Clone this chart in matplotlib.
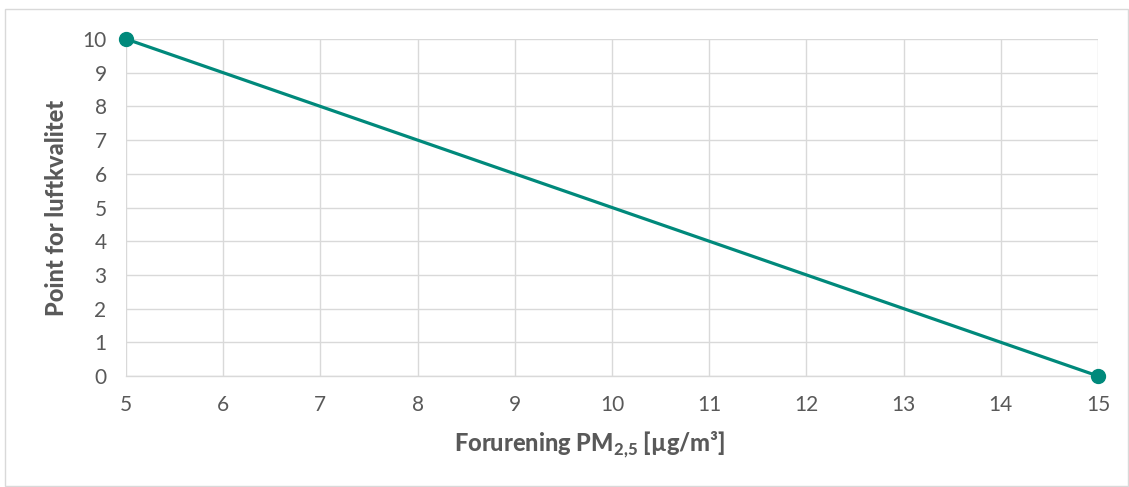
import matplotlib
matplotlib.use("Agg")
import matplotlib.pyplot as plt
from matplotlib.patches import Rectangle

x_vals = [5, 15]
y_vals = [10, 0]
x_ticks = list(range(5, 16))
y_ticks = list(range(0, 11))

plt.rcParams['font.family'] = ['Lato', 'DejaVu Sans']
plt.rcParams['mathtext.fontset'] = 'custom'
plt.rcParams['mathtext.rm'] = 'Lato'
plt.rcParams['mathtext.bf'] = 'Lato:black'

text_color = '#595959'
grid_color = '#D9D9D9'
line_color = '#00897B'

fig = plt.figure(figsize=(11.29, 4.87), dpi=100)
fig.patches.append(Rectangle((5/1129, 1/487), 1 - 6/1129, 1 - 10/487, transform=fig.transFigure,
                             fill=False, edgecolor=grid_color, linewidth=1))
ax = fig.add_axes([126/1129, 1 - 376/487, (1098 - 126)/1129, (376 - 39)/487])

ax.plot(x_vals, y_vals, color=line_color, linewidth=2.3, marker='o', markersize=10,
        clip_on=False, zorder=3)

ax.set_xlim(5, 15)
ax.set_ylim(0, 10)
ax.set_xticks(x_ticks)
ax.set_yticks(y_ticks)
ax.grid(True, color=grid_color, linewidth=1)
ax.set_axisbelow(True)
for s in ['top', 'right', 'left']:
    ax.spines[s].set_visible(False)
ax.spines['bottom'].set_color(grid_color)
ax.spines['bottom'].set_linewidth(1)
ax.tick_params(length=0, labelsize=15, colors=text_color)
ax.tick_params(axis='x', pad=14)
ax.tick_params(axis='y', pad=14)

ax.set_xlabel(r'Forurening PM$_{\mathbf{2{,}5}}$ [µg/m³]', fontsize=17, fontweight='black',
              color=text_color)
ax.set_ylabel('Point for luftkvalitet', fontsize=17, fontweight='black', color=text_color)
ax.xaxis.set_label_coords(0.477, -0.160)
ax.yaxis.set_label_coords(-0.0597, 0.5)

fig.savefig('out.png', dpi=100)
